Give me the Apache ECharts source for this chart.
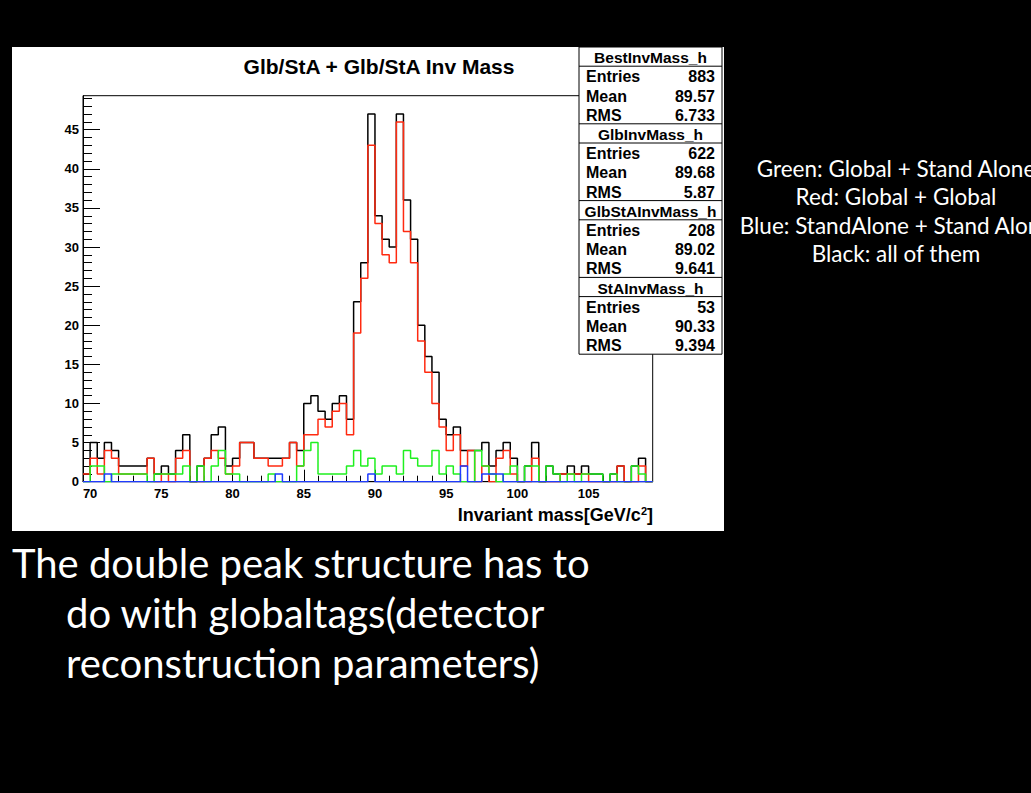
<!DOCTYPE html>
<html>
<head>
<meta charset="utf-8">
<script src="https://cdn.jsdelivr.net/npm/echarts@6/dist/echarts.min.js"></script>
<style>
  html, body { margin: 0; padding: 0; background: #000; }
  #chart { width: 1031px; height: 793px; }
</style>
</head>
<body>
<div id="chart"></div>
<script>
// Histogram binning: 80 bins of 0.5 GeV starting at 69.5 GeV
const binStart = 69.5;
const binWidth = 0.5;

// Bin contents, one value per bin
const allPairs = [
  1, 5, 3, 5, 4, 2, 2, 2, 2, 3,
  1, 2, 1, 4, 6, 0, 2, 3, 6, 7,
  2, 3, 5, 5, 3, 3, 3, 3, 3, 5,
  4, 10, 11, 9, 8, 10, 11, 8, 23, 28,
  47, 34, 31, 30, 47, 36, 31, 20, 16, 14,
  8, 6, 7, 4, 4, 4, 5, 2, 4, 5,
  3, 0, 2, 5, 0, 2, 1, 1, 2, 1,
  2, 1, 1, 0, 1, 2, 0, 2, 3, 0
];
const glbGlb = [
  1, 3, 1, 4, 3, 1, 1, 1, 1, 3,
  0, 1, 0, 3, 4, 0, 0, 3, 4, 3,
  1, 2, 5, 5, 3, 3, 2, 2, 3, 5,
  2, 6, 6, 8, 7, 9, 10, 6, 19, 26,
  43, 33, 29, 28, 46, 32, 28, 18, 14, 10,
  7, 4, 6, 2, 4, 0, 2, 0, 3, 4,
  1, 0, 0, 3, 0, 0, 0, 1, 1, 1,
  1, 0, 0, 0, 0, 2, 0, 0, 2, 0
];
const glbSta = [
  0, 2, 2, 0, 1, 1, 1, 1, 1, 0,
  1, 1, 1, 1, 2, 0, 2, 0, 2, 4,
  1, 1, 0, 0, 0, 0, 1, 0, 0, 0,
  2, 4, 5, 1, 1, 1, 1, 2, 4, 2,
  3, 1, 2, 2, 1, 4, 3, 2, 2, 4,
  1, 2, 1, 0, 0, 4, 2, 1, 0, 1,
  2, 0, 2, 2, 0, 2, 1, 0, 1, 0,
  1, 1, 1, 0, 1, 0, 0, 2, 1, 0
];
const staSta = [
  0, 0, 0, 1, 0, 0, 0, 0, 0, 0,
  0, 0, 0, 0, 0, 0, 0, 0, 0, 0,
  0, 0, 0, 0, 0, 0, 0, 1, 0, 0,
  0, 0, 0, 0, 0, 0, 0, 0, 0, 0,
  1, 0, 0, 0, 0, 0, 0, 0, 0, 0,
  0, 0, 0, 2, 0, 0, 1, 1, 1, 0,
  0, 0, 0, 0, 0, 0, 0, 0, 0, 0,
  0, 0, 0, 0, 0, 0, 0, 0, 0, 0
];

// Axis ticks
const xMajorTicks = [70, 75, 80, 85, 90, 95, 100, 105];
const xMinorTicks = [70,71,72,73,74,75,76,77,78,79,80,81,82,83,84,85,86,87,88,89,
                     90,91,92,93,94,95,96,97,98,99,100,101,102,103,104,105,106,107,108,109];
const yMajorTicks = [0, 5, 10, 15, 20, 25, 30, 35, 40, 45];
const yMinorTicks = [0,1,2,3,4,5,6,7,8,9,10,11,12,13,14,15,16,17,18,19,20,21,22,23,24,
                     25,26,27,28,29,30,31,32,33,34,35,36,37,38,39,40,41,42,43,44,45,46,47,48,49];
const yMax = 49.35;

// Statistics boxes
const statNames = ['BestInvMass_h', 'GlbInvMass_h', 'GlbStAInvMass_h', 'StAInvMass_h'];
const statEntries = ['883', '622', '208', '53'];
const statMeans = ['89.57', '89.68', '89.02', '90.33'];
const statRms = ['6.733', '5.87', '9.641', '9.394'];

// Texts
const chartTitle = 'Glb/StA + Glb/StA Inv Mass';
const sideNotes = [
  'Green: Global + Stand Alone',
  'Red: Global + Global',
  'Blue: StandAlone + Stand Alone',
  'Black: all of them'
];
const bottomNote = [
  'The double peak structure has to',
  'do with globaltags(detector',
  'reconstruction parameters)'
];

// Turn bin contents into step points at the bin edges
function toSteps(values) {
  const pts = values.map((v, i) => [binStart + i * binWidth, v]);
  pts.push([binStart + values.length * binWidth, values[values.length - 1]]);
  return pts;
}

const chart = echarts.init(document.getElementById('chart'), null, { renderer: 'svg' });

const rootFont = 'Liberation Sans, Arial, Helvetica, sans-serif';
const slideFont = 'Lato, "Open Sans", sans-serif';

// Statistics box layout
const box = { x: 579, y: 47, w: 143, rowH: 19.2 };
const statEls = [];
statEls.push({
  type: 'rect', z: 100,
  shape: { x: box.x, y: box.y, width: box.w, height: box.rowH * 16 },
  style: { fill: '#fff', stroke: '#000', lineWidth: 1 }
});
statNames.forEach((name, k) => {
  const top = box.y + k * 4 * box.rowH;
  if (k > 0) {
    statEls.push({ type: 'line', z: 101, shape: { x1: box.x, y1: top, x2: box.x + box.w, y2: top }, style: { stroke: '#000', lineWidth: 1 } });
  }
  statEls.push({ type: 'line', z: 101, shape: { x1: box.x, y1: top + box.rowH, x2: box.x + box.w, y2: top + box.rowH }, style: { stroke: '#000', lineWidth: 1 } });
  statEls.push({
    type: 'text', z: 102,
    style: { text: name, x: box.x + box.w / 2, y: top + box.rowH / 2 + 1, fill: '#000',
             font: 'bold 15.5px ' + rootFont, align: 'center', verticalAlign: 'middle',
             textAlign: 'center', textVerticalAlign: 'middle' }
  });
  const rows = [['Entries', statEntries[k]], ['Mean', statMeans[k]], ['RMS', statRms[k]]];
  rows.forEach((r, j) => {
    const cy = top + box.rowH * (j + 1.5) + 1;
    statEls.push({
      type: 'text', z: 102,
      style: { text: r[0], x: box.x + 7, y: cy, fill: '#000', font: 'bold 16px ' + rootFont,
               align: 'left', verticalAlign: 'middle', textAlign: 'left', textVerticalAlign: 'middle' }
    });
    statEls.push({
      type: 'text', z: 102,
      style: { text: r[1], x: box.x + box.w - 7, y: cy, fill: '#000', font: 'bold 16px ' + rootFont,
               align: 'right', verticalAlign: 'middle', textAlign: 'right', textVerticalAlign: 'middle' }
    });
  });
});

const sideEls = sideNotes.map((t, i) => ({
  type: 'text', z: 10,
  style: { text: t, x: 896, y: 168 + i * 28.5, fill: '#fff', font: '22.5px ' + slideFont,
           align: 'center', verticalAlign: 'middle', textAlign: 'center', textVerticalAlign: 'middle' }
}));

const bottomEls = bottomNote.map((t, i) => ({
  type: 'text', z: 10,
  style: { text: t, x: i === 0 ? 12 : 66, y: 563 + i * 50, fill: '#fff', font: '40px ' + slideFont,
           align: 'left', verticalAlign: 'middle', textAlign: 'left', textVerticalAlign: 'middle' }
}));

const gridRect = { left: 83, top: 95.7, width: 569.7, height: 386 };

const axisCommonX = {
  type: 'value', gridIndex: 0, min: binStart, max: binStart + allPairs.length * binWidth,
  position: 'bottom', splitLine: { show: false }
};
const axisCommonY = {
  type: 'value', gridIndex: 0, min: 0, max: yMax, position: 'left', splitLine: { show: false }
};

const option = {
  backgroundColor: '#000',
  animation: false,
  title: {
    text: chartTitle,
    left: 374, top: 51, textAlign: 'center',
    textStyle: { fontFamily: rootFont, fontWeight: 'bold', fontSize: 21, color: '#000' }
  },
  grid: {
    left: gridRect.left, top: gridRect.top, width: gridRect.width, height: gridRect.height,
    show: true, borderColor: '#000', borderWidth: 1, backgroundColor: 'transparent'
  },
  xAxis: [
    Object.assign({}, axisCommonX, {
      axisLine: { show: true, lineStyle: { color: '#000', width: 1 } },
      axisTick: { show: true, inside: true, length: 12, customValues: xMajorTicks, lineStyle: { color: '#000', width: 1 } },
      axisLabel: { show: true, customValues: xMajorTicks, margin: 5, color: '#000',
                   fontFamily: rootFont, fontWeight: 'bold', fontSize: 13 }
    }),
    Object.assign({}, axisCommonX, {
      axisLine: { show: false },
      axisTick: { show: true, inside: true, length: 6, customValues: xMinorTicks, lineStyle: { color: '#000', width: 1 } },
      axisLabel: { show: false }
    })
  ],
  yAxis: [
    Object.assign({}, axisCommonY, {
      axisLine: { show: true, lineStyle: { color: '#000', width: 1 } },
      axisTick: { show: true, inside: true, length: 17, customValues: yMajorTicks, lineStyle: { color: '#000', width: 1 } },
      axisLabel: { show: true, customValues: yMajorTicks, margin: 4, color: '#000',
                   fontFamily: rootFont, fontWeight: 'bold', fontSize: 13 }
    }),
    Object.assign({}, axisCommonY, {
      axisLine: { show: false },
      axisTick: { show: true, inside: true, length: 9, customValues: yMinorTicks, lineStyle: { color: '#000', width: 1 } },
      axisLabel: { show: false }
    })
  ],
  series: [
    { name: 'all', data: toSteps(allPairs), color: '#000000' },
    { name: 'Global + Global', data: toSteps(glbGlb), color: '#ff2a10' },
    { name: 'Global + Stand Alone', data: toSteps(glbSta), color: '#1ff01f' },
    { name: 'StandAlone + Stand Alone', data: toSteps(staSta), color: '#1f3cff' }
  ].map((s, i) => ({
    type: 'line', name: s.name, data: s.data, step: 'end', symbol: 'none',
    xAxisIndex: 0, yAxisIndex: 0, z: 3 + i, clip: true,
    lineStyle: { color: s.color, width: 1.5 }, itemStyle: { color: s.color }
  })),
  graphic: {
    elements: [
      {
        type: 'rect', z: -10, silent: true,
        shape: { x: 12, y: 47, width: 712, height: 484 },
        style: { fill: '#fff' }
      },
      {
        type: 'text', z: 10,
        style: {
          text: '{a|Invariant mass[GeV/c}{s|2}{a|]}',
          x: 653, y: 515, fill: '#000', align: 'right', verticalAlign: 'middle',
          textAlign: 'right', textVerticalAlign: 'middle',
          rich: {
            a: { fontFamily: rootFont, fontWeight: 'bold', fontSize: 18, color: '#000' },
            s: { fontFamily: rootFont, fontWeight: 'bold', fontSize: 11, color: '#000', verticalAlign: 'top', padding: [0, 0, 8, 0] }
          }
        }
      }
    ].concat(statEls, sideEls, bottomEls)
  }
};

chart.setOption(option);
</script>
</body>
</html>
